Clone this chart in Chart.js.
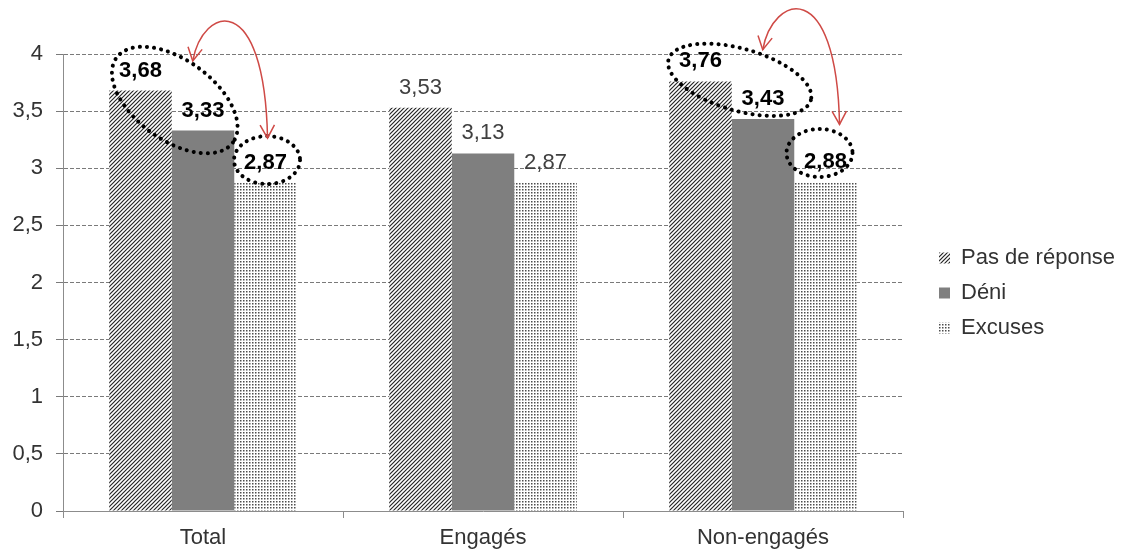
<!DOCTYPE html>
<html>
<head>
<meta charset="utf-8">
<script src="https://cdn.jsdelivr.net/npm/chart.js"></script>
<style>
  body { margin: 0; background: #fff; }
</style>
</head>
<body>
<canvas id="myChart" width="1121" height="549"></canvas>
<script>
var categories = ["Total", "Engagés", "Non-engagés"];
var seriesNames = ["Pas de réponse", "Déni", "Excuses"];
var pasDeReponse = [3.68, 3.53, 3.76];
var deni = [3.33, 3.13, 3.43];
var excuses = [2.87, 2.87, 2.88];
var yTicks = [0, 0.5, 1, 1.5, 2, 2.5, 3, 3.5, 4];
// groups with the dotted circles + red arrows (bold labels)
var highlighted = [0, 2];

function fmt(v) { return String(v).replace('.', ','); }

// diagonal hatch for "Pas de réponse"
function hatch() {
  var c = document.createElement('canvas');
  c.width = 4; c.height = 4;
  var x = c.getContext('2d');
  x.fillStyle = '#fff'; x.fillRect(0, 0, 4, 4);
  x.strokeStyle = '#262626'; x.lineWidth = 1.2;
  x.beginPath();
  x.moveTo(0, 4); x.lineTo(4, 0);
  x.moveTo(-1, 1); x.lineTo(1, -1);
  x.moveTo(3, 5); x.lineTo(5, 3);
  x.stroke();
  return x.createPattern(c, 'repeat');
}
// small dots for "Excuses"
function dots() {
  var c = document.createElement('canvas');
  c.width = 3; c.height = 3;
  var x = c.getContext('2d');
  x.fillStyle = '#fff'; x.fillRect(0, 0, 3, 3);
  x.fillStyle = '#4d4d4d';
  x.fillRect(0, 0, 1.5, 1.5);
  return x.createPattern(c, 'repeat');
}

function labelPos(bar) { return { x: bar.x, y: bar.y - 21.5 }; }

var labelPlugin = {
  id: 'valueLabels',
  afterDatasetsDraw: function(chart) {
    var ctx = chart.ctx;
    ctx.save();
    ctx.textAlign = 'center';
    ctx.textBaseline = 'alphabetic';
    chart.data.datasets.forEach(function(ds, di) {
      chart.getDatasetMeta(di).data.forEach(function(bar, i) {
        var bold = highlighted.indexOf(i) >= 0;
        ctx.font = (bold ? 'bold ' : '') + '22px "Liberation Sans", Arial';
        ctx.fillStyle = bold ? '#000' : '#404040';
        ctx.fillText(fmt(ds.data[i]), bar.x, bar.y - 14);
      });
    });
    ctx.restore();
  }
};

function dottedEllipse(ctx, cx, cy, rx, ry, rot) {
  ctx.save();
  ctx.strokeStyle = '#000';
  ctx.lineWidth = 4;
  ctx.lineCap = 'round';
  ctx.setLineDash([0.1, 7]);
  ctx.beginPath();
  ctx.ellipse(cx, cy, rx, ry, rot, 0, Math.PI * 2);
  ctx.stroke();
  ctx.restore();
}

function arrowHead(ctx, x, y, ang) {
  var l = 15, w = 0.5;
  ctx.beginPath();
  ctx.moveTo(x - l * Math.cos(ang - w), y - l * Math.sin(ang - w));
  ctx.lineTo(x, y);
  ctx.lineTo(x - l * Math.cos(ang + w), y - l * Math.sin(ang + w));
  ctx.stroke();
}

// hand-drawn look of the two annotations (offsets from the value labels)
var annot = {
  0: { ex: 3, ey: 11, rx: 72, ry: 40, rot: 36, sx: 18, sy: -39, cx: 1.5, cy: -1.5, tx: 2, ty: -23.5 },
  2: { ex: 8, ey: 1, rx: 74, ry: 31, rot: 16, sx: 23, sy: -30, cx: -6, cy: -7.5, tx: 14, ty: -36 }
};

var annotPlugin = {
  id: 'annot',
  afterDatasetsDraw: function(chart) {
    var ctx = chart.ctx;
    var m0 = chart.getDatasetMeta(0), m1 = chart.getDatasetMeta(1), m2 = chart.getDatasetMeta(2);
    highlighted.forEach(function(i) {
      var a = annot[i];
      var p = labelPos(m0.data[i]), d = labelPos(m1.data[i]), e = labelPos(m2.data[i]);
      var cx = (p.x + d.x) / 2 + a.ex, cy = (p.y + d.y) / 2 + a.ey;
      dottedEllipse(ctx, cx, cy, a.rx, a.ry, a.rot * Math.PI / 180);
      dottedEllipse(ctx, e.x + a.cx, e.y + a.cy, 33, 24, 0);
      var S = { x: cx + a.sx, y: cy + a.sy };
      var E = { x: e.x + a.tx, y: e.y + a.ty };
      var c1 = { x: S.x + 10, y: S.y - 55 };
      var c2 = { x: E.x - 3, y: E.y - 150 };
      ctx.save();
      ctx.strokeStyle = '#cf4a46';
      ctx.lineWidth = 1.5;
      ctx.beginPath();
      ctx.moveTo(S.x, S.y);
      ctx.bezierCurveTo(c1.x, c1.y, c2.x, c2.y, E.x, E.y);
      ctx.stroke();
      arrowHead(ctx, S.x, S.y, Math.atan2(S.y - c1.y, S.x - c1.x));
      arrowHead(ctx, E.x, E.y, Math.atan2(E.y - c2.y, E.x - c2.x));
      ctx.restore();
    });
  }
};

Chart.defaults.font.family = '"Liberation Sans", Arial, sans-serif';
Chart.defaults.font.size = 22;
Chart.defaults.color = '#404040';

new Chart("myChart", {
  type: "bar",
  data: {
    labels: categories,
    datasets: [
      { label: seriesNames[0], data: pasDeReponse, backgroundColor: hatch() },
      { label: seriesNames[1], data: deni, backgroundColor: '#7f7f7f' },
      { label: seriesNames[2], data: excuses, backgroundColor: dots() }
    ]
  },
  options: {
    responsive: false,
    animation: false,
    layout: { padding: { top: 37, left: 0, right: 0, bottom: 0 } },
    datasets: { bar: { barPercentage: 1, categoryPercentage: 0.67 } },
    plugins: {
      // empty title only reserves space above the plot
      title: { display: true, text: '', font: { size: 10 }, padding: { top: 0, bottom: 5 } },
      legend: {
        position: 'right',
        maxWidth: 195,
        labels: {
          boxWidth: 11, boxHeight: 11, padding: 13, color: '#333',
          generateLabels: function(chart) {
            // a trailing space keeps the last letter inside the legend box
            return Chart.defaults.plugins.legend.labels.generateLabels(chart).map(function(l) {
              l.text = l.text + '\u00a0';
              return l;
            });
          }
        }
      },
      tooltip: { enabled: false }
    },
    scales: {
      x: {
        afterFit: function(s) { s.height = 38; },
        grid: { display: true, drawOnChartArea: false, offset: true, tickLength: 7, color: '#8c8c8c' },
        border: { color: '#8c8c8c' },
        ticks: { padding: 7, color: '#333' }
      },
      y: {
        min: 0, max: 4,
        afterBuildTicks: function(s) { s.ticks = yTicks.map(function(v) { return { value: v }; }); },
        afterFit: function(s) { s.width = 63; },
        grid: { color: '#7a7a7a', tickLength: 7 },
        border: { color: '#8c8c8c', dash: [4, 2] },
        ticks: { padding: 13, color: '#333', callback: function(v) { return fmt(v); } }
      },
      // empty strip between the plot and the legend
      gap: {
        position: 'right',
        afterFit: function(s) { s.width = 23; },
        grid: { display: false },
        border: { display: false },
        ticks: { display: false }
      }
    }
  },
  plugins: [labelPlugin, annotPlugin]
});
</script>
</body>
</html>
